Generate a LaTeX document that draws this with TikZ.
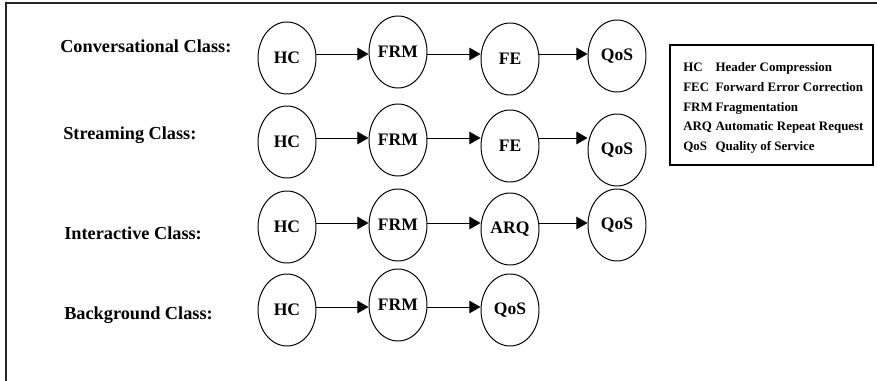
\documentclass[tikz,border=0pt]{standalone}
\usepackage{fontspec}
\setmainfont{Liberation Serif}
\usepackage{tikz}
\usetikzlibrary{arrows.meta,shapes.geometric}

\begin{document}
\begin{tikzpicture}[font=\bfseries,>={Triangle[length=8pt,width=9pt]},
  proc/.style={ellipse,draw,line width=0.7pt,inner sep=0pt,
    minimum width=1.45cm,minimum height=1.8cm,font=\fontsize{12.5}{14}\bfseries},
  cls/.style={anchor=base west,inner sep=0pt,font=\fontsize{13}{15}\bfseries},
  flow/.style={->,line width=0.7pt}]
\useasboundingbox (0,0) rectangle (21.925,9.525);
% outer frame (top and left edge only)
\draw[line width=1.2pt,black!85] (0.15,0) -- (0.15,9.45) -- (21.925,9.45);

% class names
\node[cls] (conv) at (1.5,8.2) {Conversational Class:};
\node[cls] (strm) at (1.575,6.025) {Streaming Class:};
\node[cls] (intr) at (1.6,3.525) {Interactive Class:};
\node[cls] (bgnd) at (1.6,1.525) {Background Class:};

% conversational
\coordinate (r1) at (0,8.175);
\node[proc] (hc1) at (7.175,8.075) {HC};
\node[proc] (frm1) at (9.95,8.225) {FRM};
\node[proc] (fe1) at (12.75,8.05) {FE};
\node[proc] (qos1) at (15.425,8.125) {QoS};
\draw[flow] (hc1.east |- r1) -- (frm1.west |- r1);
\draw[flow] (frm1.east |- r1) -- (fe1.west |- r1);
\draw[flow] (fe1.east |- r1) -- (qos1.west |- r1);

% streaming
\coordinate (r2) at (0,6.075);
\node[proc] (hc2) at (7.175,5.975) {HC};
\node[proc] (frm2) at (9.95,6.025) {FRM};
\node[proc] (fe2) at (12.75,5.875) {FE};
\node[proc] (qos2) at (15.425,5.775) {QoS};
\draw[flow] (hc2.east |- r2) -- (frm2.west |- r2);
\draw[flow] (frm2.east |- r2) -- (fe2.west |- r2);
\draw[flow] (fe2.east |- r2) -- (qos2.west |- r2);

% interactive
\coordinate (r3) at (0,3.95);
\node[proc] (hc3) at (7.175,3.85) {HC};
\node[proc] (frm3) at (9.95,3.9) {FRM};
\node[proc] (arq3) at (12.75,3.8) {ARQ};
\node[proc] (qos3) at (15.425,3.9) {QoS};
\draw[flow] (hc3.east |- r3) -- (frm3.west |- r3);
\draw[flow] (frm3.east |- r3) -- (arq3.west |- r3);
\draw[flow] (arq3.east |- r3) -- (qos3.west |- r3);

% background
\coordinate (r4) at (0,1.85);
\node[proc] (hc4) at (7.175,1.775) {HC};
\node[proc] (frm4) at (9.95,1.9) {FRM};
\node[proc] (qos4) at (12.75,1.775) {QoS};
\draw[flow] (hc4.east |- r4) -- (frm4.west |- r4);
\draw[flow] (frm4.east |- r4) -- (qos4.west |- r4);

% abbreviations
\node[draw,line width=1.1pt,minimum width=5.075cm,minimum height=3cm] (legend) at (19.2875,6.9) {};
\node[anchor=base west,inner sep=0pt,font=\fontsize{9.2}{13.9}\bfseries] (keys) at (17.075,7.725)
  {\begin{tabular}[t]{@{}l@{\hspace{2pt}}l@{}}
   HC & Header Compression\\
   FEC & Forward Error Correction\\
   FRM & Fragmentation\\
   ARQ & Automatic Repeat Request\\
   QoS & Quality of Service
   \end{tabular}};
\end{tikzpicture}
\end{document}
